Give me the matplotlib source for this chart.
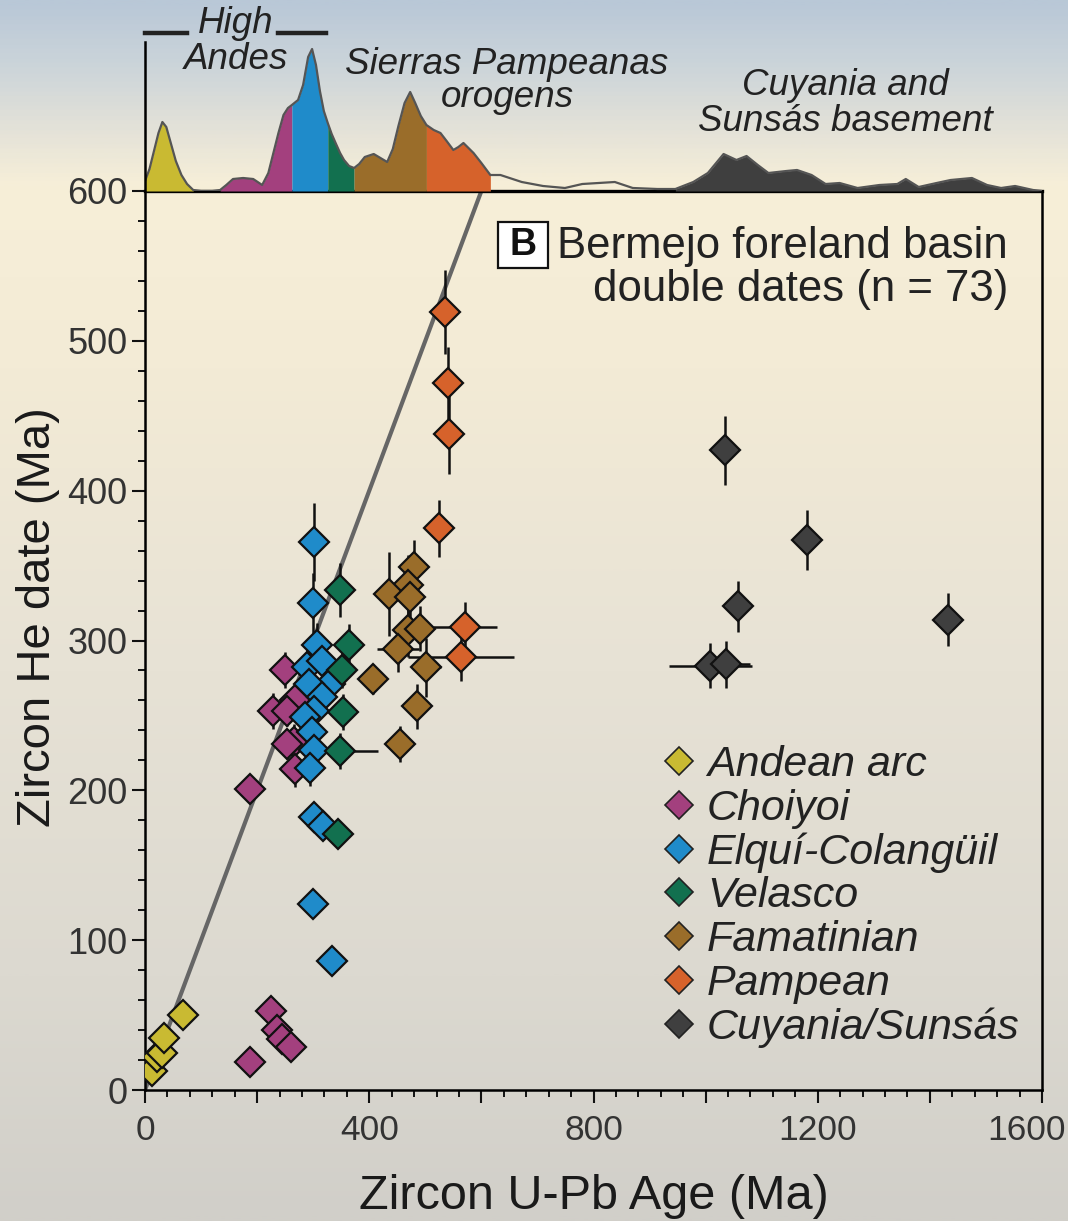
import numpy as np
import matplotlib
matplotlib.use('Agg')
import matplotlib.pyplot as plt
from matplotlib.lines import Line2D
from matplotlib.patches import Rectangle
from matplotlib.colors import LinearSegmentedColormap
from matplotlib.ticker import MultipleLocator, FixedLocator, FixedFormatter
import matplotlib.transforms as mtransforms

plt.rcParams['font.family'] = ['Liberation Sans', 'DejaVu Sans']

# ---------------- data ----------------
groups = ['Andean arc', 'Choiyoi', 'Elquí-Colangüil', 'Velasco',
          'Famatinian', 'Pampean', 'Cuyania/Sunsás']
colors = ['#c9ba32', '#a3407e', '#1f8bca', '#12704f',
          '#9a6d2a', '#d6622b', '#3f3f3f']

# U-Pb age (x), He date (y), errors
andean_upb = [12, 21, 30, 33, 67]
andean_he = [13, 22, 25, 35, 50]
andean_xerr = [0, 0, 0, 0, 0]
andean_yerr = [0, 0, 0, 0, 0]

choiyoi_upb = [225, 235, 244, 260, 188, 250, 229, 268, 253, 265, 253, 268, 188]
choiyoi_he = [53, 40, 34, 29, 19, 280, 253, 260, 253, 232, 231, 214, 201]
choiyoi_xerr = [0, 0, 0, 0, 0, 0, 0, 0, 0, 0, 0, 0, 0]
choiyoi_yerr = [0, 0, 0, 0, 0, 12, 12, 12, 10, 12, 10, 12, 8]

elqui_upb = [301, 299, 306, 289, 315, 330, 292, 315, 301, 286, 298, 301, 295, 301, 318, 299, 333]
elqui_he = [366, 325, 297, 282, 286, 271, 271, 262, 253, 249, 239, 227, 215, 182, 176, 124, 86]
elqui_xerr = [0] * 17
elqui_yerr = [26, 20, 15, 12, 12, 12, 12, 12, 12, 12, 12, 12, 12, 8, 8, 0, 0]

velasco_upb = [347, 363, 351, 354, 348, 345]
velasco_he = [334, 297, 280, 252, 226, 171]
velasco_xerr = [0, 0, 0, 0, 68, 0]
velasco_yerr = [18, 14, 12, 12, 12, 0]

famat_upb = [479, 470, 436, 473, 470, 491, 451, 502, 406, 486, 455]
famat_he = [349, 337, 331, 329, 307, 308, 294, 282, 274, 256, 231]
famat_xerr = [0, 0, 0, 0, 0, 0, 37, 26, 0, 0, 0]
famat_yerr = [18, 20, 28, 15, 18, 15, 15, 20, 10, 15, 12]

pampean_upb = [536, 540, 542, 525, 571, 564]
pampean_he = [519, 472, 438, 375, 309, 289]
pampean_xerr = [0, 0, 0, 0, 57, 95]
pampean_yerr = [28, 24, 27, 19, 17, 16]

cuyania_upb = [1034, 1180, 1058, 1433, 1008, 1036]
cuyania_he = [427, 367, 323, 314, 283, 284]
cuyania_xerr = [0, 0, 0, 0, 74, 44]
cuyania_yerr = [23, 20, 17, 18, 15, 16]

# detrital zircon age density (top panel)
dens_age = [0, 8, 16, 24, 31, 38, 46, 55, 65, 75, 86, 100, 120, 134, 145, 157,
            175, 193, 209, 220, 229, 238, 247, 255, 262, 273, 282, 291, 298,
            305, 312, 319, 326, 333, 340, 348, 355, 364, 373, 382, 392, 408,
            420, 432, 442, 452, 463, 473, 482, 492, 502, 515, 527, 538, 550,
            559, 568, 577, 586, 600, 616, 634, 672, 710, 749, 780, 838, 870,
            914, 946, 978, 1004, 1032, 1055, 1073, 1093, 1112, 1144, 1163,
            1189, 1214, 1239, 1271, 1310, 1342, 1357, 1380, 1412, 1437, 1475,
            1502, 1527, 1552, 1584, 1600]
dens_val = [10, 22, 40, 58, 69, 64, 48, 30, 16, 7, 1, 0, 0, 1, 6, 12,
            13, 12, 6, 18, 38, 58, 76, 83, 86, 91, 106, 134, 142,
            126, 100, 80, 68, 57, 48, 38, 31, 25, 23, 27, 34, 37,
            33, 29, 42, 65, 88, 99, 88, 75, 66, 61, 58, 50, 41,
            44, 48, 43, 38, 28, 16, 16, 9, 5, 3, 7, 9, 3,
            2, 2, 9, 18, 37, 31, 35, 26, 18, 20, 21,
            16, 7, 8, 3, 6, 7, 12, 4, 8, 11, 13,
            6, 3, 5, 1, 0]
# age ranges of each province in the density curve
seg_lo = [0, 134, 262, 326, 373, 502, 946]
seg_hi = [86, 262, 326, 373, 502, 616, 1600]

x_ticks = [0, 200, 400, 600, 800, 1000, 1200, 1400, 1600]
x_ticklabels = ['0', '', '400', '', '800', '', '1200', '', '']
last_xlabel = '1600'

# ---------------- figure ----------------
W, H = 1068, 1221
fig = plt.figure(figsize=(W / 100, H / 100), dpi=100)

# gradient background
bg = fig.add_axes([0, 0, 1, 1], zorder=-10)
stops = [(0.0, '#b9c8d7'), (0.05, '#cbd4da'), (0.10, '#e2e1d8'),
         (0.15, '#f7efd8'), (0.30, '#f3ebd6'), (0.55, '#e7e2d5'),
         (0.80, '#dcd9d0'), (1.0, '#d1cfc9')]
cmap = LinearSegmentedColormap.from_list('bg', stops)
grad = np.linspace(0, 1, 600).reshape(-1, 1)
bg.imshow(grad, aspect='auto', cmap=cmap, extent=[0, 1, 0, 1], origin='upper')
bg.axis('off')

def fx(px):
    return px / W

def fy(py):
    return 1 - py / H

ax_l, ax_r, ax_t, ax_b = 145, 1042, 191, 1090
ax = fig.add_axes([fx(ax_l), fy(ax_b), fx(ax_r) - fx(ax_l), fy(ax_t) - fy(ax_b)])
ax.set_facecolor('none')
dax = fig.add_axes([fx(ax_l), fy(ax_t), fx(ax_r) - fx(ax_l), fy(42) - fy(ax_t)])
dax.set_facecolor('none')

# ---------------- density panel ----------------
da = np.array(dens_age, dtype=float)
dv = np.array(dens_val, dtype=float)
for lo, hi, c in zip(seg_lo, seg_hi, colors):
    m = (da >= lo) & (da <= hi)
    dax.fill_between(da[m], 0, dv[m], color=c, lw=0)
dax.plot(da, dv, color='#555555', lw=1.6, solid_joinstyle='round')
dax.set_xlim(0, 1600)
dax.set_ylim(0, 149)
for s in ['top', 'right', 'bottom']:
    dax.spines[s].set_visible(False)
dax.spines['left'].set_linewidth(1.8)
dax.set_xticks([])
dax.set_yticks([])

# bracket for High Andes
trans = mtransforms.blended_transform_factory(dax.transData, fig.transFigure)
dax.plot([0, 75], [fy(33), fy(33)], color='#222222', lw=3.2, transform=trans, clip_on=False)
dax.plot([237, 322], [fy(33), fy(33)], color='#222222', lw=3.2, transform=trans, clip_on=False)

lab_kw = dict(fontsize=26.5, style='italic', color='#222222', ha='center', va='baseline')
fig.text(fx(236), fy(33), 'High', **lab_kw)
fig.text(fx(236), fy(69), 'Andes', **lab_kw)
fig.text(fx(507), fy(74), 'Sierras Pampeanas', **lab_kw)
fig.text(fx(507), fy(107), 'orogens', **lab_kw)
fig.text(fx(845), fy(95), 'Cuyania and', **lab_kw)
fig.text(fx(845), fy(131), 'Sunsás basement', **lab_kw)

# ---------------- main scatter ----------------
ax.set_xlim(0, 1600)
ax.set_ylim(0, 600)
ax.plot([0, 700], [0, 700], color='#666666', lw=3.0, zorder=1, solid_capstyle='butt')

all_x = [andean_upb, choiyoi_upb, elqui_upb, velasco_upb, famat_upb, pampean_upb, cuyania_upb]
all_y = [andean_he, choiyoi_he, elqui_he, velasco_he, famat_he, pampean_he, cuyania_he]
all_xe = [andean_xerr, choiyoi_xerr, elqui_xerr, velasco_xerr, famat_xerr, pampean_xerr, cuyania_xerr]
all_ye = [andean_yerr, choiyoi_yerr, elqui_yerr, velasco_yerr, famat_yerr, pampean_yerr, cuyania_yerr]

for xs, ys, xe, ye in zip(all_x, all_y, all_xe, all_ye):
    ax.errorbar(xs, ys, xerr=xe, yerr=ye, fmt='none', ecolor='#111111',
                elinewidth=1.8, capsize=0, zorder=2)
for xs, ys, c in zip(all_x, all_y, colors):
    ax.plot(xs, ys, ls='none', marker='D', ms=15, mfc=c, mec='#111111',
            mew=1.6, zorder=3)

# ticks
ax.xaxis.set_major_locator(FixedLocator(x_ticks))
ax.xaxis.set_major_formatter(FixedFormatter(x_ticklabels))
ax.xaxis.set_minor_locator(MultipleLocator(40))
ax.yaxis.set_major_locator(MultipleLocator(100))
ax.yaxis.set_minor_locator(MultipleLocator(20))
ax.tick_params(axis='both', which='major', direction='out', length=9.5, width=1.5,
               color='#111111', labelcolor='#333333')
ax.tick_params(axis='both', which='minor', direction='out', length=5, width=1.4,
               color='#111111')
ax.tick_params(axis='x', which='major', labelsize=25.5, pad=8)
ax.tick_params(axis='y', which='major', labelsize=26, pad=3)
for s in ['left', 'bottom', 'right']:
    ax.spines[s].set_linewidth(1.8)
ax.spines['top'].set_linewidth(2.4)

# last x tick label kept inside the figure edge
ax.text((1066 - ax_l) / 897, (ax_b - 1114) / 899, last_xlabel, transform=ax.transAxes,
        ha='right', va='top', fontsize=25.5, color='#333333')

ax.set_xlabel('Zircon U-Pb Age (Ma)', fontsize=35, color='#1a1a1a')
ax.set_ylabel('Zircon He date (Ma)', fontsize=34, color='#1a1a1a')
ax.xaxis.set_label_coords(0.5, -0.093)
ax.yaxis.set_label_coords(-0.095, 0.526)

# panel label
ax.add_patch(Rectangle(((498 - ax_l) / 897, (ax_b - 268) / 899), 50 / 897, 46 / 899,
                       transform=ax.transAxes, fc='white', ec='#111111', lw=1.6, zorder=4))
ax.text((523 - ax_l) / 897, (ax_b - 245) / 899, 'B', transform=ax.transAxes,
        ha='center', va='center', fontsize=27, fontweight='bold', color='#111111', zorder=5)
ax.text((1008 - ax_l) / 897, (ax_b - 258) / 899, 'Bermejo foreland basin',
        transform=ax.transAxes, ha='right', va='baseline', fontsize=31.5, color='#222222')
ax.text((1008 - ax_l) / 897, (ax_b - 301) / 899, 'double dates (n = 73)',
        transform=ax.transAxes, ha='right', va='baseline', fontsize=31.5, color='#222222')

# legend
handles = [Line2D([], [], ls='none', marker='D', ms=14, mfc=c, mec='#222222', mew=1.2)
           for c in colors]
leg = ax.legend(handles, groups, loc='upper left',
                bbox_to_anchor=((664 - ax_l) / 897, (ax_b - 745) / 899),
                frameon=False, borderpad=0, borderaxespad=0, handlelength=0.7,
                handletextpad=0.3, labelspacing=0.085,
                prop={'size': 31, 'style': 'italic'})
for t in leg.get_texts():
    t.set_color('#222222')

fig.savefig('out.png', dpi=100)
